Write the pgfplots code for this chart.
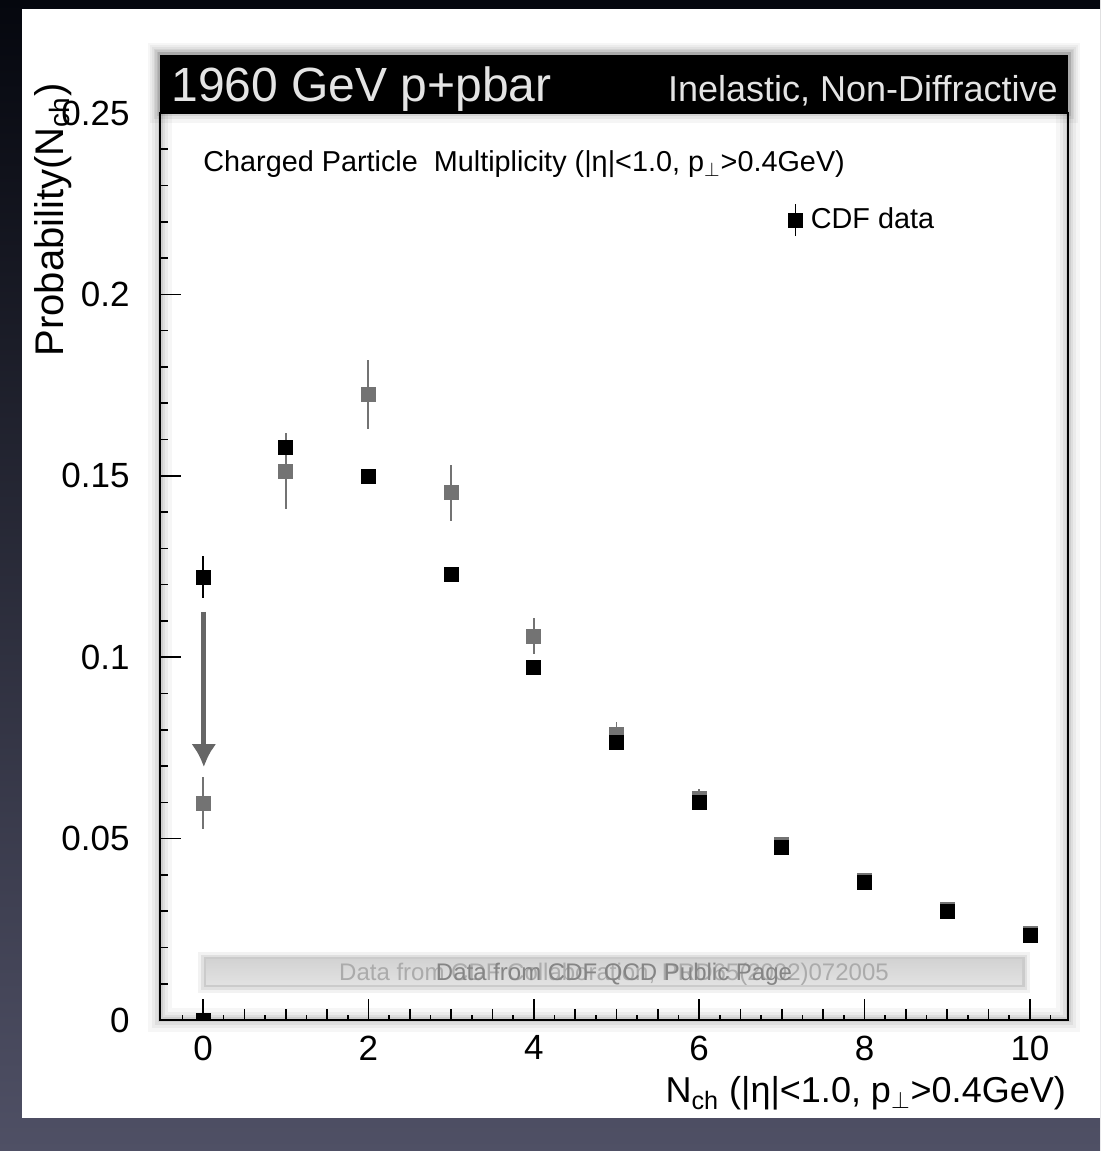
\documentclass[border=0pt]{standalone}
\usepackage{pgfplots}
\pgfplotsset{compat=1.18}
\usepackage{pgfplotstable}
\usepackage{fontspec}
\setmainfont{Liberation Sans}
\usetikzlibrary{arrows.meta}
\definecolor{bgtop}{HTML}{05070E}
\definecolor{bgbot}{HTML}{4F5065}
\definecolor{hdrtxt}{HTML}{E4E4E4}
\definecolor{grayPt}{HTML}{737373}
\definecolor{arrowc}{HTML}{666666}
\definecolor{boxfill}{HTML}{E2E2E2}
\definecolor{txtlight}{HTML}{ABABAB}
\definecolor{txtdark}{HTML}{858585}

% older CDF data (gray)
\pgfplotstableread{
x y e
0 0.0598 0.0072
1 0.1513 0.0105
2 0.1723 0.0095
3 0.1453 0.0077
4 0.1058 0.0050
5 0.0786 0.0035
6 0.0612 0.0025
7 0.0485 0.0020
8 0.0385 0.0015
9 0.0305 0.0012
10 0.0240 0.0010
}\olddata

% CDF data (black)
\pgfplotstableread{
x y e
0 0.1221 0.0057
1 0.1579 0.0020
2 0.1499 0.0015
3 0.1229 0.0012
4 0.0973 0.0010
5 0.0766 0.0010
6 0.0601 0.0008
7 0.0477 0.0008
8 0.0378 0.0006
9 0.0298 0.0006
10 0.0234 0.0005
}\cdfdata

\pgfplotstableread{
x y e
0 0.0 0.0058
}\zerodata

\begin{document}
\begin{tikzpicture}
\shade[top color=bgtop, bottom color=bgbot] (0,0) rectangle (550pt,575.5pt);
\begin{scope}[x=0.5pt,y=-0.5pt,yshift=575.5pt]
  \fill[white] (22,9) rectangle (1100,1118);
  \foreach \w/\o in {12pt/0.035,8pt/0.045,5pt/0.055,2.5pt/0.07} {
    \draw[black,opacity=\o,line width=\w] (160,55) rectangle (1068,1020);
  }
\end{scope}

\begin{axis}[
  at={(80pt,65.5pt)}, anchor=south west,
  scale only axis, width=454pt, height=453.5pt,
  xmin=-0.52, xmax=10.46, ymin=0, ymax=0.25,
  axis line style={line width=1pt},
  every tick/.style={black, line width=0.8pt},
  tick align=inside,
  xtick pos=bottom, ytick pos=left,
  major tick length=10.5pt, minor tick length=5.3pt,
  xtick={0,2,4,6,8,10}, xticklabels={0,2,4,6,8,10},
  minor x tick num=3,
  extra x ticks={-0.25,0.25,0.75,1.25,1.75,2.25,2.75,3.25,3.75,4.25,4.75,5.25,5.75,6.25,6.75,7.25,7.75,8.25,8.75,9.25,9.75,10.25},
  extra x tick labels={},
  extra x tick style={major tick length=2.6pt, xtick pos=bottom},
  ytick={0,0.05,0.1,0.15,0.2,0.25}, yticklabels={0,0.05,0.1,0.15,0.2,0.25},
  extra y ticks={0.01,0.02,0.03,0.04,0.06,0.07,0.08,0.09,0.11,0.12,0.13,0.14,0.16,0.17,0.18,0.19,0.21,0.22,0.23,0.24},
  extra y tick labels={},
  extra y tick style={major tick length=3.75pt, ytick pos=left},
  xticklabel style={font=\fontsize{17.5}{20}\selectfont, inner sep=0pt, yshift=-7.7pt},
  yticklabel style={font=\fontsize{17.5}{20}\selectfont, inner sep=0pt, xshift=-15pt},
  xlabel={N\textsubscript{ch} (|η|<1.0, p$_\perp$>0.4GeV)},
  xlabel style={font=\fontsize{18}{20}\selectfont, at={(axis description cs:0.998,-0.0915)}, anchor=base east, inner sep=0pt},
  ylabel={Probability(N\textsubscript{ch})},
  ylabel style={font=\fontsize{20}{22}\selectfont, at={(axis description cs:-0.118,0.882)}, anchor=center, inner sep=0pt},
  clip marker paths=true,
  legend style={at={(axis cs:7.07,0.2205)}, anchor=west, draw=none, fill=none, inner sep=0pt,
    font=\fontsize{14.4}{16}\selectfont},
  legend image code/.code={
    \draw[black, line width=0.8pt] (0pt,-8pt) -- (0pt,8pt);
    \fill[black] (-3.5pt,-3.5pt) rectangle (3.5pt,3.5pt);
    \path (5.5pt,0pt);
  },
]
\draw[arrowc, line width=2.5pt, -{Latex[width=12.5pt,length=11.5pt]}] (axis cs:0.01,0.1125) -- (axis cs:0.01,0.0697);

\addplot[only marks, mark=square*, mark size=3.5pt, color=grayPt, forget plot,
  error bars/.cd, y dir=both, y explicit, error mark=none,
  error bar style={line width=0.9pt, color=grayPt}]
  table[x=x, y=y, y error=e] {\olddata};

\addplot[only marks, mark=square*, mark size=3.5pt, color=black, forget plot,
  error bars/.cd, y dir=both, y explicit, error mark=none,
  error bar style={line width=0.9pt, color=black}]
  table[x=x, y=y, y error=e] {\zerodata};

\addplot[only marks, mark=square*, mark size=3.5pt, color=black,
  error bars/.cd, y dir=both, y explicit, error mark=none,
  error bar style={line width=0.9pt, color=black}]
  table[x=x, y=y, y error=e] {\cdfdata};
\addlegendentry{CDF data}
\end{axis}

\begin{scope}[x=0.5pt,y=-0.5pt,yshift=575.5pt]
  % header
  \foreach \w/\o in {10pt/0.04,6pt/0.06,3pt/0.08} {
    \draw[black,opacity=\o,line width=\w] (160,55) rectangle (1068,113);
  }
  \fill[black] (160,55) rectangle (1068,113);
  \node[anchor=base west, inner sep=0pt, text=hdrtxt, font=\fontsize{24}{28}\selectfont] at (171,102) {1960 GeV p+pbar};
  \node[anchor=base east, inner sep=0pt, text=hdrtxt, font=\fontsize{18}{20}\selectfont] at (1058,102) {Inelastic, Non-Diffractive};
  % subtitle
  \node[anchor=base west, inner sep=0pt, font=\fontsize{14.4}{16}\selectfont] at (203,172) {Charged Particle\ \ Multiplicity (|η|<1.0, p$_\perp$>0.4GeV)};
  % data source box
  \foreach \w/\o in {8pt/0.05,5pt/0.07,2.5pt/0.09} {
    \draw[black,opacity=\o,line width=\w] (206,960) rectangle (1022,985);
  }
  \shade[top color=boxfill!85!gray, bottom color=boxfill] (206,960) rectangle (1022,985);
  \node[anchor=base, inner sep=0pt, text=txtlight, font=\fontsize{12}{14}\selectfont] at (614,981) {Data from CDF Collaboration, PRD65(2002)072005};
  \node[anchor=base, inner sep=0pt, text=txtdark, font=\fontsize{12}{14}\selectfont] at (614,981) {Data from CDF QCD Public Page};
\end{scope}
\end{tikzpicture}
\end{document}
